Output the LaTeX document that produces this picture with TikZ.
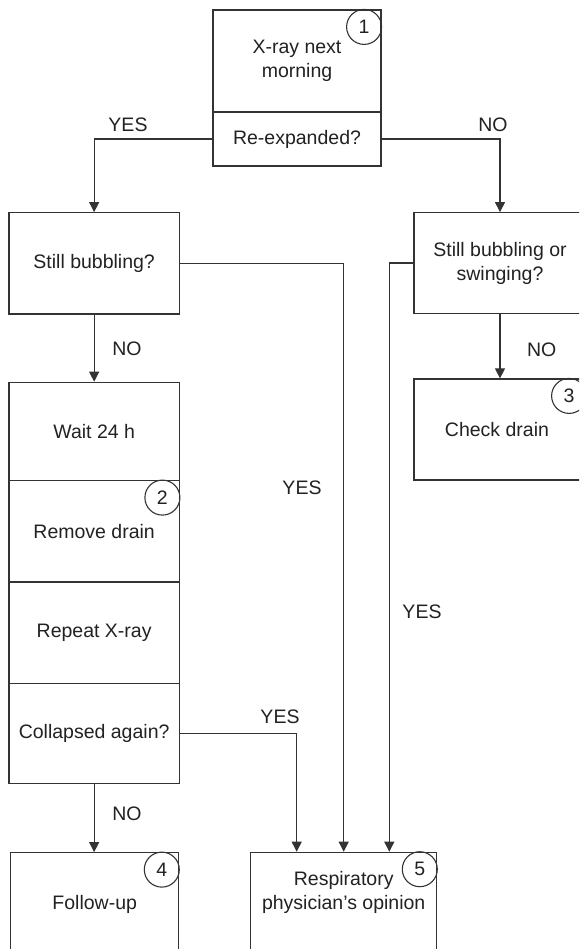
\documentclass[tikz,border=0pt]{standalone}
\usepackage{fontspec}
\setmainfont{Liberation Sans}
\usetikzlibrary{arrows.meta}
\definecolor{linec}{HTML}{333333}
\definecolor{textc}{HTML}{222222}
\newcommand{\fs}{\fontsize{19.5}{24}\selectfont}
\tikzset{
  box/.style={draw=linec, line width=1.2pt, inner sep=0pt, align=center, text=textc, font=\fs},
  numc/.style={circle, draw=linec, line width=1.1pt, minimum size=35pt, inner sep=0pt, text=textc, font=\fs},
  arr/.style={draw=linec, line width=1.1pt, -{Triangle[length=10pt,width=10pt]}},
  lbl/.style={text=textc, font=\fs, inner sep=0pt}
}
\begin{document}
\begin{tikzpicture}[x=1pt,y=-1pt]
\useasboundingbox (0,0) rectangle (579,949);
\clip (0,0) rectangle (579,949);
\fill[white] (0,0) rectangle (579,949);
% boxes
\node[box, minimum width=168pt, minimum height=102pt] (xray) at (297,61) {X-ray next\\morning};
\node[box, minimum width=168pt, minimum height=54pt] (reexp) at (297,139) {Re-expanded?};
\node[box, minimum width=170.3pt, minimum height=101.3pt] (still) at (94.15,263.35) {Still bubbling?};
\node[box, minimum width=172pt, minimum height=100.6pt] (swing) at (500,263) {Still bubbling or\\swinging?};
\node[box, minimum width=172pt, minimum height=101pt] (check) at (500,429.5) {\hspace*{-6pt}Check drain};
\node[box, minimum width=170.3pt, minimum height=98.4pt] (wait) at (94.15,431.5) {Wait 24 h};
\node[box, minimum width=170.3pt, minimum height=101.3pt] (remove) at (94.15,531.35) {Remove drain};
\node[box, minimum width=170.3pt, minimum height=101.3pt] (repeat) at (94.15,632.65) {Repeat X-ray};
\node[box, minimum width=170.3pt, minimum height=100pt] (collapsed) at (94.15,733.3) {Collapsed again?};
\node[box, minimum width=168pt, minimum height=104.3pt] (follow) at (94.7,904.85) {Follow-up};
\node[box, minimum width=186pt, minimum height=104.7pt] (resp) at (343.7,904.65) {Respiratory\\physician’s opinion\\[4pt]};
% numbers
\node[numc] (n1) at ([xshift=-17.5pt,yshift=-17.5pt]xray.north east) {1};
\node[numc] (n2) at ([xshift=-17.5pt,yshift=-17.5pt]remove.north east) {2};
\node[numc] (n3) at ([xshift=-17.5pt,yshift=-17.5pt]check.north east) {3};
\node[numc] (n4) at ([xshift=-17.5pt,yshift=-17.5pt]follow.north east) {4};
\node[numc] (n5) at ([xshift=-17.5pt,yshift=-17.5pt]resp.north east) {5};
% connectors
\draw[arr] (reexp.west) -| (still.north);
\draw[arr] (reexp.east) -| (swing.north);
\draw[arr] (still.south) -- (wait.north);
\draw[arr] (swing.south) -- (check.north);
\draw[arr] (still.east) -| (resp.north);
\draw[arr] (swing.west) -| ([xshift=45.6pt]resp.north);
\draw[arr] (collapsed.east) -| ([xshift=-47pt]resp.north);
\draw[arr] (collapsed.south) -- (collapsed.south |- follow.north);
% labels
\node[lbl] (l1) at (128,125) {YES};
\node[lbl] (l2) at (493,125) {NO};
\node[lbl] (l3) at (127,349) {NO};
\node[lbl] (l4) at (541.7,349.3) {NO};
\node[lbl] (l5) at (302,488) {YES};
\node[lbl] (l6) at (422,612) {YES};
\node[lbl] (l7) at (280,717) {YES};
\node[lbl] (l8) at (127,814) {NO};
\end{tikzpicture}
\end{document}
